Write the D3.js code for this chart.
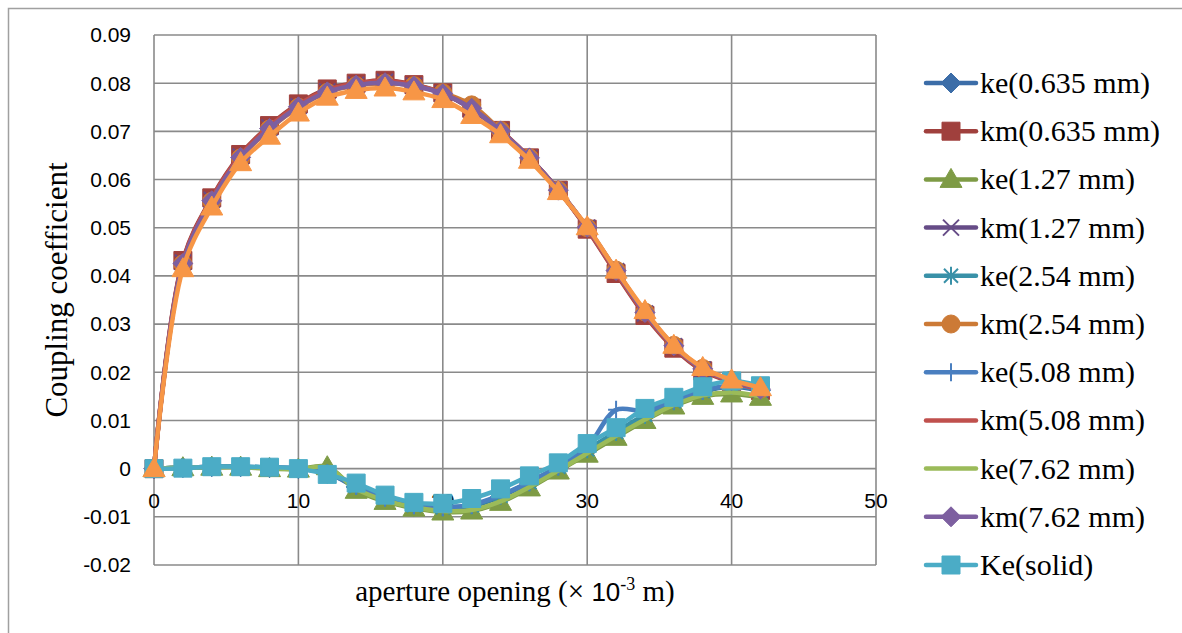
<!DOCTYPE html>
<html>
<head>
<meta charset="utf-8">
<script src="https://cdnjs.cloudflare.com/ajax/libs/d3/7.8.5/d3.min.js"></script>
<style>
    body { margin: 0; background: #fff; }
    svg { display: block; }
</style>
</head>
<body>
<svg width="1182" height="633"></svg>
<script>
    // aperture opening (x 10^-3 m)
    var xValues = [0, 2, 4, 6, 8, 10, 12, 14, 16, 18, 20, 22, 24, 26, 28, 30, 32, 34, 36, 38, 40, 42];

    // lower group (ke)
    var ke0635 = [0, 0.0002, 0.0004, 0.0004, 0.0002, 0.0000, -0.0010, -0.0038, -0.0062, -0.0078, -0.0082, -0.0078, -0.0058, -0.0030, 0.0002, 0.0038, 0.0075, 0.0110, 0.0138, 0.0160, 0.0170, 0.0162];
    var ke127 = [0, 0.0002, 0.0003, 0.0003, 0.0000, -0.0001, 0.0004, -0.0045, -0.0068, -0.0082, -0.0090, -0.0088, -0.0070, -0.0040, -0.0005, 0.0030, 0.0065, 0.0100, 0.0130, 0.0150, 0.0155, 0.0148];
    var ke254 = [0, 0.0002, 0.0004, 0.0004, 0.0002, 0.0000, -0.0010, -0.0036, -0.0060, -0.0076, -0.0080, -0.0076, -0.0056, -0.0028, 0.0004, 0.0040, 0.0076, 0.0112, 0.0140, 0.0161, 0.0172, 0.0164];
    var ke508 = [0, 0.0002, 0.0004, 0.0004, 0.0002, 0.0000, -0.0010, -0.0035, -0.0060, -0.0076, -0.0080, -0.0075, -0.0055, -0.0028, 0.0005, 0.0045, 0.0122, 0.0120, 0.0142, 0.0162, 0.0172, 0.0165];
    var ke762 = [0, 0.0002, 0.0003, 0.0003, 0.0001, -0.0001, 0.0002, -0.0042, -0.0066, -0.0080, -0.0088, -0.0086, -0.0068, -0.0038, -0.0004, 0.0032, 0.0068, 0.0102, 0.0132, 0.0152, 0.0158, 0.0150];
    var keSolid = [0, 0.0001, 0.0004, 0.0004, 0.0003, 0.0000, -0.0012, -0.0030, -0.0055, -0.0070, -0.0072, -0.0062, -0.0042, -0.0015, 0.0012, 0.0052, 0.0085, 0.0125, 0.0148, 0.0170, 0.0182, 0.0172];

    // upper group (km)
    var km0635 = [0, 0.0432, 0.0562, 0.0652, 0.0712, 0.0757, 0.0788, 0.0800, 0.0806, 0.0797, 0.0780, 0.0748, 0.0702, 0.0645, 0.0578, 0.0497, 0.0405, 0.0318, 0.0250, 0.0203, 0.0180, 0.0162];
    var km127 = [0, 0.0428, 0.0558, 0.0648, 0.0708, 0.0752, 0.0783, 0.0797, 0.0803, 0.0795, 0.0778, 0.0746, 0.0700, 0.0645, 0.0578, 0.0500, 0.0410, 0.0322, 0.0254, 0.0206, 0.0182, 0.0164];
    var km254 = [0, 0.0425, 0.0555, 0.0645, 0.0705, 0.0750, 0.0781, 0.0795, 0.0800, 0.0795, 0.0780, 0.0755, 0.0702, 0.0645, 0.0578, 0.0500, 0.0412, 0.0325, 0.0256, 0.0208, 0.0184, 0.0165];
    var km508 = [0, 0.0430, 0.0560, 0.0650, 0.0710, 0.0755, 0.0786, 0.0799, 0.0805, 0.0796, 0.0779, 0.0747, 0.0701, 0.0645, 0.0578, 0.0498, 0.0407, 0.0320, 0.0252, 0.0205, 0.0181, 0.0163];
    var km762 = [0, 0.0426, 0.0556, 0.0646, 0.0706, 0.0751, 0.0782, 0.0796, 0.0801, 0.0794, 0.0778, 0.0748, 0.0701, 0.0645, 0.0578, 0.0501, 0.0411, 0.0324, 0.0255, 0.0207, 0.0183, 0.0165];
    var kmSolid = [0, 0.0415, 0.0543, 0.0635, 0.0690, 0.0738, 0.0771, 0.0785, 0.0790, 0.0782, 0.0766, 0.0733, 0.0693, 0.0640, 0.0575, 0.0502, 0.0412, 0.0328, 0.0256, 0.0210, 0.0184, 0.0168];

    var seriesNames = ["ke(0.635 mm)", "km(0.635 mm)", "ke(1.27 mm)", "km(1.27 mm)", "ke(2.54 mm)", "km(2.54 mm)",
        "ke(5.08 mm)", "km(5.08 mm)", "ke(7.62 mm)", "km(7.62 mm)", "Ke(solid)", "Km(solid)"];
    var seriesValues = [ke0635, km0635, ke127, km127, ke254, km254, ke508, km508, ke762, km762, keSolid, kmSolid];
    var seriesColors = ["#3c6da8", "#a0403d", "#7e9b45", "#664c87", "#3991a8", "#cc7a36",
        "#4a7fc0", "#c0504d", "#9bbb59", "#7d5fa0", "#4bacc6", "#f79646"];
    var seriesMarkers = ["diamond", "square", "triangle", "x", "star", "circle",
        "plus", "none", "none", "diamond", "square", "triangle"];
    var legendCount = 11; // last series falls outside the visible legend

    var yTicks = [-0.02, -0.01, 0, 0.01, 0.02, 0.03, 0.04, 0.05, 0.06, 0.07, 0.08, 0.09];
    var yTickLabels = ["-0.02", "-0.01", "0", "0.01", "0.02", "0.03", "0.04", "0.05", "0.06", "0.07", "0.08", "0.09"];
    var xTicks = [0, 10, 20, 30, 40, 50];

    var svg = d3.select("svg");
    svg.append("rect").attr("width", 1182).attr("height", 633).attr("fill", "#fff");

    // outer chart border (only top and left visible)
    svg.append("path")
        .attr("d", "M8.5,633V8.5H1182")
        .attr("fill", "none")
        .attr("stroke", "#a0a0a0")
        .attr("stroke-width", 1.5);

    var x = d3.scaleLinear().domain([0, 50]).range([154, 876]);
    var y = d3.scaleLinear().domain([-0.02, 0.09]).range([565, 35]);

    // grid
    var grid = svg.append("g").attr("stroke", "#8a8a8a").attr("stroke-width", 1.6);
    grid.selectAll("line.h").data(yTicks).enter().append("line")
        .attr("x1", x(0)).attr("x2", x(50))
        .attr("y1", function(d) { return y(d); }).attr("y2", function(d) { return y(d); });
    grid.selectAll("line.v").data(xTicks).enter().append("line")
        .attr("y1", y(0.09)).attr("y2", y(-0.02))
        .attr("x1", function(d) { return x(d); }).attr("x2", function(d) { return x(d); });

    // y tick labels
    svg.append("g")
        .attr("font-family", "'Liberation Sans', Arial, sans-serif")
        .attr("font-size", 21)
        .attr("text-anchor", "end")
        .selectAll("text").data(yTicks).enter().append("text")
        .attr("x", 131)
        .attr("y", function(d) { return y(d); })
        .attr("dy", "0.35em")
        .text(function(d, i) { return yTickLabels[i]; });

    // x tick labels, sitting just under the zero line
    svg.append("g")
        .attr("font-family", "'Liberation Sans', Arial, sans-serif")
        .attr("font-size", 21)
        .attr("text-anchor", "middle")
        .selectAll("text").data(xTicks).enter().append("text")
        .attr("x", function(d) { return x(d); })
        .attr("y", y(0) + 32)
        .attr("dy", "0.35em")
        .text(function(d) { return d; });

    // axis titles
    svg.append("text")
        .attr("transform", "translate(67," + 290 + ") rotate(-90)")
        .attr("text-anchor", "middle")
        .attr("font-family", "'Liberation Serif', 'Times New Roman', serif")
        .attr("font-size", 31)
        .text("Coupling coefficient");

    var xt = svg.append("text")
        .attr("x", 515)
        .attr("y", 601)
        .attr("text-anchor", "middle")
        .attr("font-family", "'Liberation Serif', 'Times New Roman', serif")
        .attr("font-size", 29);
    xt.append("tspan").text("aperture opening (\u00d7 ");
    xt.append("tspan").attr("font-family", "'Liberation Sans', Arial, sans-serif").attr("font-size", 26).text("10");
    xt.append("tspan").attr("font-size", 18).attr("dy", -11).text("-3");
    xt.append("tspan").attr("dy", 11).text(" m)");

    // marker shapes
    function markerPath(type) {
        switch (type) {
            case "diamond": return "M0,-10L10,0L0,10L-10,0Z";
            case "square": return "M-9,-9H9V9H-9Z";
            case "triangle": return "M0,-11L11,8L-11,8Z";
            case "circle": return "M9,0A9,9 0 1,1 -9,0A9,9 0 1,1 9,0Z";
            case "x": return "M-8,-8L8,8M-8,8L8,-8";
            case "star": return "M-7,-7L7,7M-7,7L7,-7M0,-9V9";
            case "plus": return "M0,-9V9M-8,0H8";
            default: return null;
        }
    }
    function isStroked(type) { return type === "x" || type === "star" || type === "plus"; }

    function drawMarker(sel, type, color) {
        if (type === "none") return;
        sel.append("path")
            .attr("d", markerPath(type))
            .attr("fill", isStroked(type) ? "none" : color)
            .attr("stroke", color)
            .attr("stroke-width", isStroked(type) ? 2 : 1);
    }

    var line = d3.line()
        .x(function(d) { return x(d[0]); })
        .y(function(d) { return y(d[1]); })
        .curve(d3.curveCatmullRom.alpha(0.5));

    var plot = svg.append("g");
    seriesValues.forEach(function(vals, i) {
        var pts = xValues.map(function(xv, j) { return [xv, vals[j]]; });
        var g = plot.append("g");
        g.append("path")
            .datum(pts)
            .attr("d", line)
            .attr("fill", "none")
            .attr("stroke", seriesColors[i])
            .attr("stroke-width", 4.5)
            .attr("stroke-linejoin", "round")
            .attr("stroke-linecap", "round");
        if (seriesMarkers[i] !== "none") {
            pts.forEach(function(p) {
                var m = g.append("g").attr("transform", "translate(" + x(p[0]) + "," + y(p[1]) + ")");
                drawMarker(m, seriesMarkers[i], seriesColors[i]);
            });
        }
    });

    // legend
    var legend = svg.append("g")
        .selectAll("g").data(seriesNames.slice(0, legendCount)).enter().append("g")
        .attr("transform", function(d, i) { return "translate(951," + (83 + i * 48.2) + ")"; });
    legend.append("line")
        .attr("x1", -25).attr("x2", 25)
        .attr("stroke", function(d, i) { return seriesColors[i]; })
        .attr("stroke-width", 4.5)
        .attr("stroke-linecap", "round");
    legend.each(function(d, i) { drawMarker(d3.select(this), seriesMarkers[i], seriesColors[i]); });
    legend.append("text")
        .attr("x", 29)
        .attr("dy", "0.33em")
        .attr("font-family", "'Liberation Serif', 'Times New Roman', serif")
        .attr("font-size", 30)
        .text(function(d) { return d; });
</script>
</body>
</html>
